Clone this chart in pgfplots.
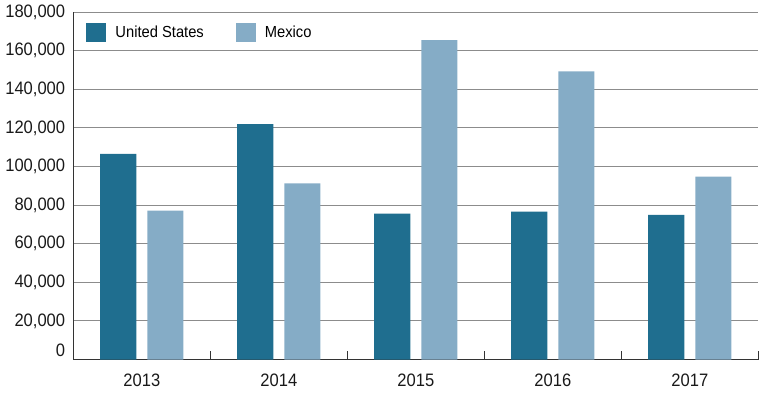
\documentclass[border=0pt]{standalone}
\usepackage{pgfplots}
\pgfplotsset{compat=1.18}
\usepackage{fontspec}
\setmainfont{Liberation Sans}[FakeStretch=0.92]
\definecolor{us}{RGB}{31,110,143}
\definecolor{mx}{RGB}{133,172,198}
\definecolor{gridc}{RGB}{140,140,140}
\pgfplotsset{/pgfplots/ybar legend/.style={/pgfplots/legend image code/.code={\fill[##1] (0pt,-9.5pt) rectangle (20pt,9.5pt);}}}
\begin{document}
\begin{tikzpicture}
\begin{axis}[
  scale only axis, width=685pt, height=347.4pt,
  xmin=-0.5, xmax=4.5, ymin=0, ymax=180000,
  axis x line=bottom, axis y line=left,
  axis line style={-, line width=1.2pt, color=black!80},
  scaled y ticks=false,
  ytick={20000,40000,60000,80000,100000,120000,140000,160000,180000},
  yticklabels={{20,000},{40,000},{60,000},{80,000},{100,000},{120,000},{140,000},{160,000},{180,000}},
  extra y ticks={0}, extra y tick labels={0},
  extra y tick style={yticklabel style={yshift=9.5pt}, grid=none},
  ymajorgrids, grid style={gridc, line width=1pt},
  major tick length=0pt,
  xtick={0,1,2,3,4}, xticklabels={2013,2014,2015,2016,2017},
  extra x ticks={0.5,1.5,2.5,3.5,4.5}, extra x tick labels={},
  extra x tick style={xtick align=inside, major tick length=9pt,
     major tick style={black!80, line width=1pt}, grid=none},
  xticklabel style={yshift=-10.5pt},
  yticklabel style={xshift=-4.6pt},
  tick label style={font=\fontsize{18}{20}\selectfont, text=black!90},
  ybar, bar width=0.263,
  legend columns=2,
  legend style={at={(axis cs:-0.5,180000)}, anchor=north west, xshift=13pt, yshift=-11pt,
    draw=none, fill=none, inner sep=0pt,
    font=\fontsize{16}{18}\selectfont,
    nodes={inner sep=2pt},
    /tikz/every odd column/.append style={column sep=7pt},
    /tikz/every even column/.append style={column sep=30pt}},
]
\addplot[fill=us, draw=none, bar shift=-0.172] coordinates {
  (0,106500) (1,122000) (2,75600) (3,76600) (4,74900)};
\addlegendentry{United States}
\addplot[fill=mx, draw=none, bar shift=0.172] coordinates {
  (0,77100) (1,91300) (2,165500) (3,149300) (4,94700)};
\addlegendentry{Mexico}
\coordinate (O) at (axis cs:-0.5,0);
\end{axis}
\pgfresetboundingbox
\path (O) ++(-73.3pt,-34.5pt) rectangle ++(760pt,394pt);
\end{tikzpicture}
\end{document}
